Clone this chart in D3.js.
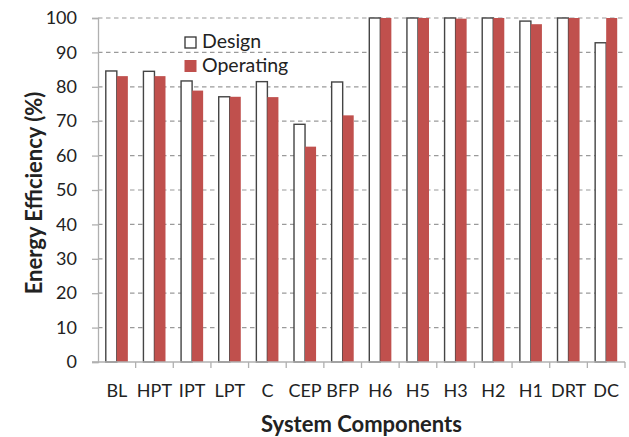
<!DOCTYPE html>
<html><head><meta charset="utf-8">
<script src="https://cdn.jsdelivr.net/npm/d3@7"></script>
<style>
html,body{margin:0;padding:0;background:#fff;}
text{font-family:Lato,"Open Sans",sans-serif;fill:#222;}
</style></head>
<body>
<svg id="chart" width="629" height="437"></svg>
<script>
const categories = ["BL","HPT","IPT","LPT","C","CEP","BFP","H6","H5","H3","H2","H1","DRT","DC"];
const designValues = [84.6,84.5,81.7,77.1,81.5,69.1,81.4,100,100,100,100,99.1,100,92.8];
const operatingValues = [83.1,83.1,78.9,77.1,77.0,62.6,71.7,100,100,99.8,100,98.2,100,100];
const yTicks = [0,10,20,30,40,50,60,70,80,90,100];
const seriesNames = ["Design","Operating"];

const svg = d3.select("#chart");
const m = {left:98, right:4, top:18, bottom:75};
const W = 629, H = 437;
const x = d3.scaleBand().domain(categories).range([m.left, W - m.right]).paddingInner(0).paddingOuter(0);
const y = d3.scaleLinear().domain([0,100]).range([H - m.bottom, m.top]);
const bw = x.bandwidth()*0.293;
const gap = (x.bandwidth() - 2*bw)/2;

// gridlines
svg.append("g").selectAll("line").data(yTicks.filter(d=>d>0)).join("line")
  .attr("x1", m.left).attr("x2", W - m.right)
  .attr("y1", d=>y(d)).attr("y2", d=>y(d))
  .attr("stroke","#9a9a9a").attr("stroke-width",1.2).attr("stroke-dasharray","4.5,3.5");

// y axis
const yAxis = d3.axisLeft(y).tickValues(yTicks).tickSize(6).tickPadding(15);
const gy = svg.append("g").attr("transform",`translate(${m.left},0)`).call(yAxis);
gy.select(".domain").attr("stroke","#b0b0b0").attr("stroke-width",1.3);
gy.selectAll(".tick line").attr("stroke","#b0b0b0").attr("stroke-width",1.3);
gy.selectAll(".tick text").attr("font-size","18px").attr("fill","#222").style("font-family","Lato");

// bars
const g = svg.append("g");
g.selectAll("rect.design").data(categories).join("rect").attr("class","design")
  .attr("x", (d)=>x(d)+gap)
  .attr("y", (d,i)=>y(designValues[i]))
  .attr("width", bw)
  .attr("height", (d,i)=>y(0)-y(designValues[i]))
  .attr("fill","#fff").attr("stroke","#444").attr("stroke-width",1.4);
g.selectAll("rect.op").data(categories).join("rect").attr("class","op")
  .attr("x", (d)=>x(d)+gap+bw)
  .attr("y", (d,i)=>y(operatingValues[i]))
  .attr("width", bw)
  .attr("height", (d,i)=>y(0)-y(operatingValues[i]))
  .attr("fill","#C0504D");

// x axis
const xAxis = d3.axisBottom(x).tickSize(0).tickPadding(22);
const gx = svg.append("g").attr("transform",`translate(0,${y(0)})`).call(xAxis);
gx.select(".domain").attr("stroke","#b0b0b0").attr("stroke-width",1.3).attr("d",`M${m.left-6},0H${W-m.right}`);
gx.selectAll(".tick text").attr("font-size","18px").attr("fill","#222").style("font-family","Lato");
// category boundary ticks
const bounds = categories.map(c=>x(c)+x.bandwidth());
gx.append("g").selectAll("line").data(bounds).join("line")
  .attr("x1",d=>d).attr("x2",d=>d).attr("y1",0).attr("y2",6)
  .attr("stroke","#b0b0b0").attr("stroke-width",1.3);

// legend
const lg = svg.append("g");
lg.append("rect").attr("x",185).attr("y",37).attr("width",11).attr("height",11)
  .attr("fill","#fff").attr("stroke","#333").attr("stroke-width",1.3);
lg.append("rect").attr("x",184.5).attr("y",60).attr("width",12).attr("height",12)
  .attr("fill","#C0504D");
lg.append("text").attr("x",202).attr("y",48).attr("font-size","19.5px").text(seriesNames[0]);
lg.append("text").attr("x",202).attr("y",72).attr("font-size","19.5px").text(seriesNames[1]);

// titles
svg.append("text").attr("x",(m.left+W-m.right)/2).attr("y",432).attr("text-anchor","middle")
  .attr("font-size","22px").attr("font-weight","bold").text("System Components");
svg.append("text").attr("transform",`translate(42,${(y(0)+y(100))/2 + 3}) rotate(-90)`)
  .attr("text-anchor","middle").attr("font-size","22px").attr("font-weight","bold")
  .text("Energy Efficiency (%)");
</script>
</body></html>
